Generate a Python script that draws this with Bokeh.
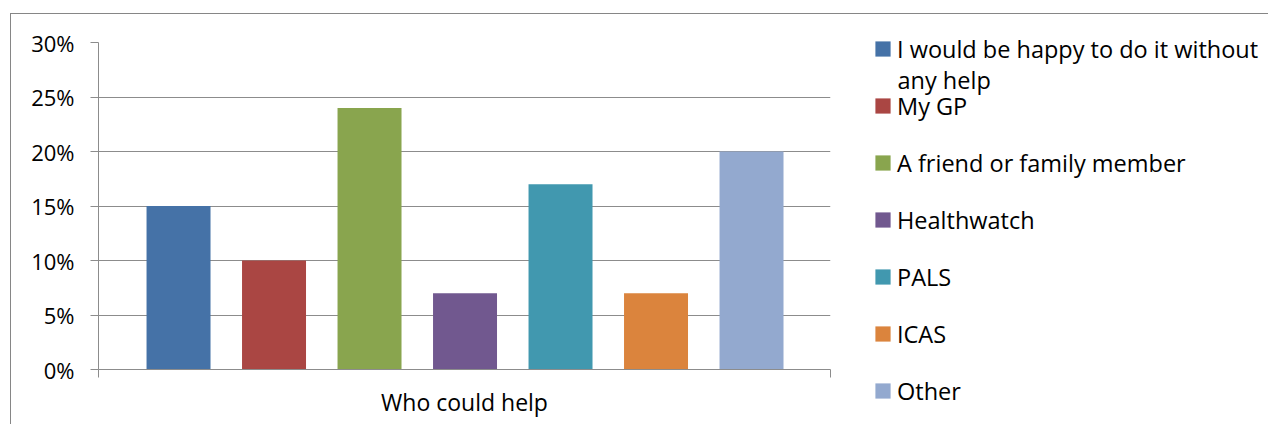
from bokeh.plotting import figure
from bokeh.models import (ColumnDataSource, Range1d, FixedTicker, NumeralTickFormatter,
                          Legend, LegendItem, Label)
from bokeh.embed import file_html
from bokeh.resources import INLINE

# Survey responses: who could help
categories = ["I would be happy to do it without any help", "My GP",
              "A friend or family member", "Healthwatch", "PALS", "ICAS", "Other"]
values = [0.15, 0.10, 0.24, 0.07, 0.17, 0.07, 0.20]
colors = ["#4572A7", "#AA4643", "#89A54E", "#71588F", "#4198AF", "#DB843D", "#93A9CF"]
y_ticks = [0.0, 0.05, 0.10, 0.15, 0.20, 0.25, 0.30]
group_label = "Who could help"

# first legend entry wraps onto a second line
legend_labels = ["I would be happy to do it without"] + categories[1:]
legend_wrap = "any help"

FONT = "Open Sans"
GRID = "#8C8C8C"
BORDER = "#868686"

x_start, x_end = -0.838, 6.827

source = ColumnDataSource(dict(
    x=list(range(len(categories))), top=values, color=colors, name=categories))

# ---- bar chart ----------------------------------------------------------
p = figure(width=1258, height=411, output_backend="svg", toolbar_location=None,
           x_range=Range1d(x_start, x_end), y_range=Range1d(0, 0.30),
           min_border_left=87, min_border_right=439, min_border_top=28,
           min_border_bottom=56, margin=(13, 0, 0, 10),
           styles={"border-left": f"1px solid {BORDER}", "border-top": f"1px solid {BORDER}"})
p.outline_line_color = None
p.background_fill_color = "white"
p.border_fill_color = "white"

p.vbar(x="x", top="top", width=0.67, color="color", source=source, line_color=None)

ya = p.yaxis[0]
ya.ticker = FixedTicker(ticks=y_ticks)
ya.formatter = NumeralTickFormatter(format="0%")
ya.axis_line_color = GRID
ya.major_tick_line_color = GRID
ya.major_tick_out = 8
ya.major_tick_in = 0
ya.minor_tick_line_color = None
ya.major_label_text_font = FONT
ya.major_label_text_font_size = "22px"
ya.major_label_text_color = "black"
ya.major_label_standoff = 16

# x axis: ticks only at the two ends of the single category
xa = p.xaxis[0]
xa.ticker = FixedTicker(ticks=[x_start, x_end])
xa.axis_line_color = GRID
xa.major_tick_line_color = GRID
xa.major_tick_out = 8
xa.major_tick_in = 0
xa.minor_tick_line_color = None
xa.major_label_text_font_size = "1px"
xa.major_label_text_color = None
xa.major_label_standoff = 0
xa.axis_label = group_label
xa.axis_label_text_font = FONT
xa.axis_label_text_font_size = "23px"
xa.axis_label_text_font_style = "normal"
xa.axis_label_text_color = "black"
xa.axis_label_standoff = 8

p.xgrid.grid_line_color = None
p.ygrid.ticker = FixedTicker(ticks=y_ticks)
p.ygrid.grid_line_color = GRID
p.ygrid.grid_line_width = 1

# ---- legend panel, laid over the right-hand side of the chart ------------
lg = figure(width=429, height=411, output_backend="svg", toolbar_location=None,
            x_range=Range1d(100, 101), y_range=Range1d(100, 101),
            x_axis_location=None, y_axis_location=None,
            min_border_left=0, min_border_right=0, min_border_top=0, min_border_bottom=0,
            styles={"position": "absolute", "left": "840px", "top": "14px"})
lg.outline_line_color = None
lg.grid.grid_line_color = None
lg.border_fill_color = None
lg.background_fill_color = None

# swatches come from the same bars (kept outside this panel's view)
lr = lg.vbar(x="x", top="top", width=0.67, color="color", source=source, line_color=None)

items = [LegendItem(label=lab, renderers=[lr], index=i) for i, lab in enumerate(legend_labels)]
legend = Legend(items=items, location=(33, 18.5), orientation="vertical",
                glyph_width=19, glyph_height=19, label_standoff=5, spacing=25,
                padding=0, margin=0, border_line_color=None, background_fill_color=None,
                label_text_font=FONT, label_text_font_size="23.5px",
                label_text_color="black")
lg.add_layout(legend, "center")

lg.add_layout(Label(x=57, y=65, x_units="canvas", y_units="canvas", text=legend_wrap,
                    text_font=FONT, text_font_size="23.5px", text_color="black",
                    text_baseline="middle"))

open("out.html", "w").write(file_html([p, lg], INLINE))
